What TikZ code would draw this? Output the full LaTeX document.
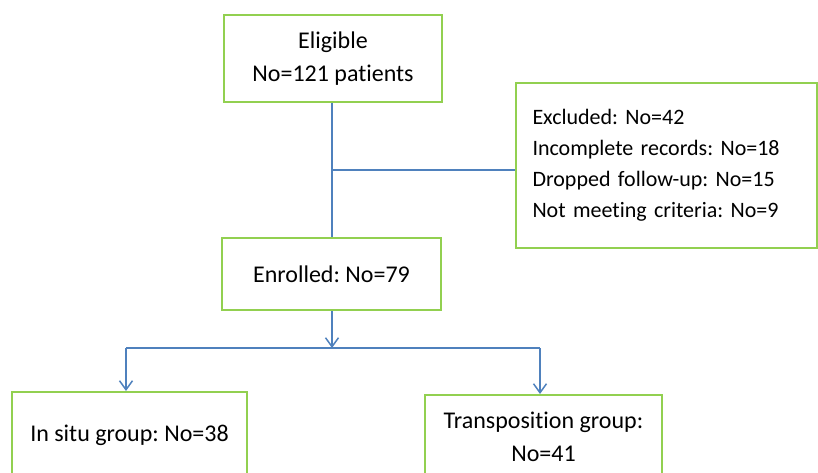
\documentclass[tikz,border=0pt]{standalone}
\usepackage{fontspec}
\setmainfont{Carlito}[Ligatures=NoCommon]
\usetikzlibrary{arrows.meta}
\definecolor{boxgreen}{HTML}{92D050}
\definecolor{lineblue}{HTML}{4F81BD}
\begin{document}
\frenchspacing
\begin{tikzpicture}[x=1pt,y=-1pt,
  box/.style={draw=boxgreen, line width=2pt, rectangle, inner sep=0pt, align=center,
    font=\fontsize{24}{33}\selectfont\frenchspacing},
  conn/.style={draw=lineblue, line width=1.5pt},
  arr/.style={conn, -{Straight Barb[length=9pt,width=13pt,line width=1.5pt]}}]
\useasboundingbox (0,0) rectangle (818,473);
\clip (0,0) rectangle (818,473);
\node[box, minimum width=218pt, minimum height=87pt] (elig) at (333,58.5) {Eligible\\No=121 patients};
\node[box, minimum width=219pt, minimum height=72pt] (enr) at (331.5,274) {Enrolled: No=79};
\node[box, minimum width=301pt, minimum height=165pt, text width=268pt, align=left,
  font=\fontsize{22}{31}\selectfont\frenchspacing] (excl) at (666.5,165.5)
  {Excluded: No=42\\Incomplete records: No=18\\Dropped follow-up: No=15\\Not meeting criteria: No=9};
\node[box, minimum width=235pt, minimum height=86pt] (insitu) at (129.5,435) {In situ group: No=38};
\node[box, minimum width=237pt, minimum height=83pt] (trans) at (543.5,436.5) {Transposition group:\\No=41};
\coordinate (j1) at (332,170);
\coordinate (j2) at (332,348);
\coordinate (jl) at (126,348);
\coordinate (jr) at (540,348);
\draw[conn] (j1 |- elig.south) -- (j1 |- enr.north);
\draw[conn] (j1) -- (j1 -| excl.west);
\draw[arr] (j2 |- enr.south) -- (j2);
\draw[conn] (jl) -- (jr);
\draw[arr] (jl) -- (jl |- insitu.north);
\draw[arr] (jr) -- (jr |- trans.north);
\end{tikzpicture}
\end{document}
